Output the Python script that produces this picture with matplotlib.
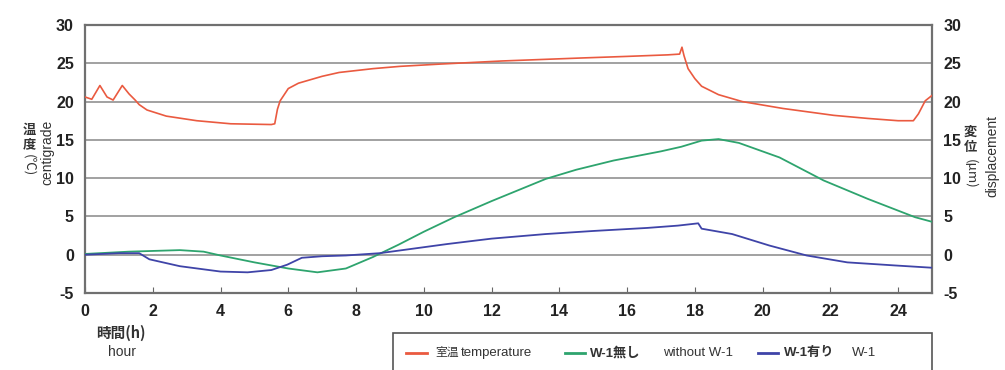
import matplotlib
matplotlib.use("Agg")
import matplotlib.pyplot as plt
from matplotlib.lines import Line2D
from matplotlib.patches import Rectangle

plt.rcParams['font.family'] = ['Liberation Sans', 'Noto Sans CJK JP', 'DejaVu Sans']
plt.rcParams['axes.unicode_minus'] = False

# room temperature (centigrade)
temp_hours = [0, 0.2, 0.44, 0.65, 0.83, 1.1, 1.3, 1.48, 1.6, 1.83, 2.4, 3.3, 4.3, 5.5,
              5.6, 5.68, 5.76, 6.0, 6.3, 7.0, 7.5, 8.5, 9.3, 10.5, 12.3, 14.7, 16.0,
              17.2, 17.55, 17.62, 17.68, 17.8, 18.0, 18.2, 18.7, 19.4, 20.6, 22.1,
              23.1, 24.0, 24.45, 24.6, 24.8, 25.0]
temp_vals = [20.6, 20.3, 22.1, 20.6, 20.2, 22.1, 21.0, 20.2, 19.6, 18.9, 18.1, 17.5, 17.1, 17.0,
             17.1, 19.0, 20.1, 21.7, 22.4, 23.3, 23.8, 24.3, 24.6, 24.9, 25.3, 25.7, 25.9,
             26.1, 26.2, 27.1, 26.0, 24.3, 23.0, 22.0, 20.9, 20.0, 19.1, 18.2,
             17.8, 17.5, 17.5, 18.4, 20.1, 20.8]

# displacement without W-1
none_hours = [0, 1.3, 2.8, 3.5, 4.0, 5.0, 6.0, 6.86, 7.7, 8.5, 9.25, 10.0, 10.9, 12.0,
              13.6, 14.5, 15.6, 17.0, 17.6, 18.2, 18.7, 19.3, 20.5, 21.8, 23.1, 24.5, 25.0]
none_vals = [0.1, 0.4, 0.6, 0.4, -0.1, -1.0, -1.8, -2.3, -1.8, -0.3, 1.3, 3.0, 4.9, 7.0,
             9.9, 11.1, 12.3, 13.5, 14.1, 14.9, 15.1, 14.6, 12.7, 9.7, 7.3, 4.9, 4.3]

# displacement with W-1
w1_hours = [0, 1.0, 1.6, 1.9, 2.8, 4.0, 4.8, 5.5, 5.97, 6.4, 7.0, 7.7, 8.7, 10.7, 12.0,
            13.6, 15.0, 16.6, 17.5, 18.1, 18.2, 19.1, 20.2, 21.3, 22.5, 23.9, 25.0]
w1_vals = [0.0, 0.2, 0.2, -0.6, -1.5, -2.2, -2.3, -2.0, -1.3, -0.4, -0.2, -0.1, 0.2, 1.4, 2.1,
           2.7, 3.1, 3.5, 3.8, 4.1, 3.4, 2.7, 1.2, -0.1, -1.0, -1.4, -1.7]

x_ticks = list(range(0, 25, 2))
y_ticks = list(range(-5, 31, 5))

red = '#ea5a40'
green = '#2ea46e'
blue = '#3f44a8'

fig = plt.figure(figsize=(10.05, 3.7), dpi=100)
ax = fig.add_axes([85 / 1005, 1 - 293 / 370, (932 - 85) / 1005, (293 - 25) / 370])

for y in y_ticks[1:-1]:
    ax.axhline(y, color='#9a9a9a', lw=1.3, zorder=1)

ax.plot(temp_hours, temp_vals, color=red, lw=1.2, zorder=3)
ax.plot(none_hours, none_vals, color=green, lw=1.3, zorder=3)
ax.plot(w1_hours, w1_vals, color=blue, lw=1.3, zorder=3)

ax.set_xlim(0, 25)
ax.set_ylim(-5, 30)
ax.set_xticks(x_ticks)
ax.set_yticks(y_ticks)
ax.tick_params(axis='x', direction='in', length=4, color='#666666', labelsize=11.5, pad=8)
ax.tick_params(axis='y', length=0, labelsize=11.5, pad=8, labelright=True)
for lab in ax.get_xticklabels() + ax.get_yticklabels():
    lab.set_fontweight('bold')
    lab.set_color('#222222')
for side in ['left', 'bottom', 'right', 'top']:
    ax.spines[side].set_color('#707070')
    ax.spines[side].set_linewidth(1.6)


def fx(px):
    return px / 1005


def fy(py):
    return 1 - py / 370


cjk = ['Noto Sans CJK JP', 'DejaVu Sans']
txt_color = '#333333'

# x axis caption
fig.text(fx(121), fy(333), '時間(h)', fontsize=10.5, fontweight='bold', color=txt_color,
         ha='center', va='center', family=cjk)
fig.text(fx(122), fy(352), 'hour', fontsize=10, color=txt_color, ha='center', va='center')

# left caption (vertical Japanese + rotated English)
fig.text(fx(29), fy(137), '温\n度', fontsize=9.5, fontweight='bold', color=txt_color,
         ha='center', va='center', family=cjk, linespacing=1.0)
fig.text(fx(29), fy(165), '(℃)', fontsize=9.5, color=txt_color, rotation=270,
         ha='center', va='center', family=cjk)
fig.text(fx(47), fy(152), 'centigrade', fontsize=10, color=txt_color, rotation=90,
         ha='center', va='center')

# right caption
fig.text(fx(970), fy(139), '変\n位', fontsize=9.5, fontweight='bold', color=txt_color,
         ha='center', va='center', family=cjk, linespacing=1.1)
fig.text(fx(970), fy(174), '(μm)', fontsize=9.5, color=txt_color, rotation=270,
         ha='center', va='center', family=cjk)
fig.text(fx(992), fy(156), 'displacement', fontsize=10, color=txt_color, rotation=90,
         ha='center', va='center')

# legend box
fig.patches.append(Rectangle((fx(393), fy(372)), fx(932) - fx(393), fy(333) - fy(372),
                             transform=fig.transFigure, fill=False, edgecolor='#555555',
                             lw=1.2, clip_on=False))
legend_y = fy(353)
items = [
    (red, 406, 427, [(435, '室温', 'normal', 8.5), (461, 'temperature', 'normal', 9.5)]),
    (green, 565, 585, [(590, 'W-1無し', 'bold', 9.5), (663, 'without W-1', 'normal', 9.5)]),
    (blue, 758, 778, [(784, 'W-1有り', 'bold', 9.5), (852, 'W-1', 'normal', 9.5)]),
]
for color, x0, x1, texts in items:
    fig.lines.append(Line2D([fx(x0), fx(x1)], [legend_y, legend_y], color=color, lw=2,
                            transform=fig.transFigure))
    for px, txt, weight, size in texts:
        fig.text(fx(px), legend_y, txt, fontsize=size, fontweight=weight, color=txt_color,
                 ha='left', va='center',
                 family=['Liberation Sans', 'Noto Sans CJK JP', 'DejaVu Sans'])

fig.savefig('out.png', dpi=100)
